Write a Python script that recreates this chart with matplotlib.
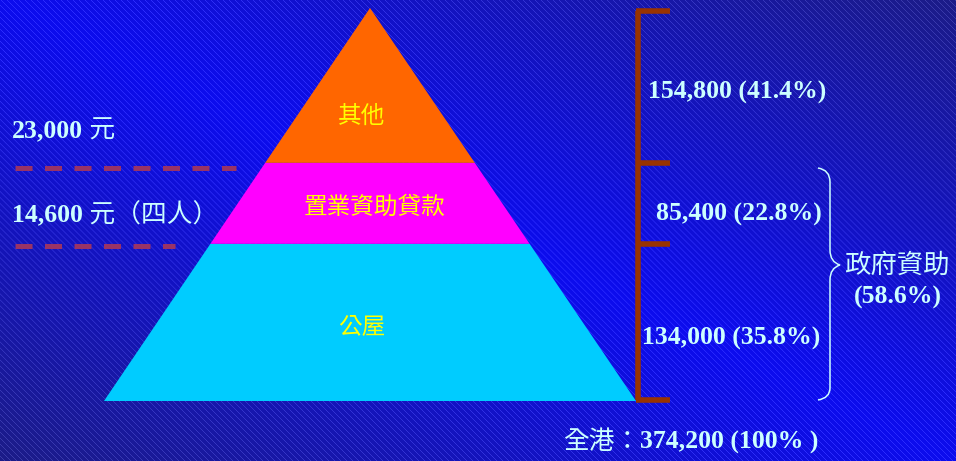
import numpy as np
import matplotlib
matplotlib.use("Agg")
import matplotlib.pyplot as plt
from matplotlib.patches import Polygon, PathPatch
from matplotlib.path import Path

# ---------- data ----------
layer_names = ["公屋", "置業資助貸款", "其他"]
households = [134000, 85400, 154800]
shares = [35.8, 22.8, 41.4]
# top of each layer as a fraction of the pyramid height
layer_tops = [0.40, 0.606, 1.0]
layer_colors = ["#00CCFF", "#FF00FF", "#FF6600"]

income_values = ["23,000", "14,600"]
income_units = ["元", "元（四人）"]
total_households = 374200
gov_share = 58.6
# ---------------------------

W, H = 956, 461
CYAN_TXT = "#CCFFFF"
SERIF = ["Liberation Serif", "Noto Sans CJK TC"]
CJK = ["Noto Sans CJK TC", "DejaVu Sans"]

fig = plt.figure(figsize=(W / 100, H / 100), dpi=100)
ax = fig.add_axes([0, 0, 1, 1])
ax.set_xlim(0, W)
ax.set_ylim(H, 0)
ax.axis("off")

# background: diagonal blue gradient with fine stripes
yy, xx = np.mgrid[0:H, 0:W]
t = np.abs(xx / W - yy / H)[..., None]
bright = np.array([12, 12, 238]) / 255
dark = np.array([28, 28, 135]) / 255
bg = bright * (1 - t) + dark * t
stripe = ((xx - yy) % 6 == 0)[..., None]
bg = np.clip(bg + stripe * 0.12, 0, 1)
ax.imshow(bg, extent=[0, W, H, 0], aspect="auto", zorder=0)

# pyramid geometry (pixel frame)
apex_x, apex_y = 370, 8
base_y = 401
half_base = 266
height = base_y - apex_y


def edge_x(frac):
    # half width of pyramid at a fraction of height from the base
    return half_base * (1 - frac)


prev = 0.0
for name, top, col in zip(layer_names, layer_tops, layer_colors):
    y0 = base_y - prev * height
    y1 = base_y - top * height
    pts = [(apex_x - edge_x(prev), y0), (apex_x + edge_x(prev), y0),
           (apex_x + edge_x(top), y1), (apex_x - edge_x(top), y1)]
    ax.add_patch(Polygon(pts, closed=True, facecolor=col, edgecolor="none", zorder=2))
    if top < 1.0:
        ty = (y0 + y1) / 2 + 4
    else:
        ty = y0 - 0.3 * (y0 - y1)
    ax.text(apex_x - 8 if top != layer_tops[1] else apex_x + 5, ty, name,
            color="#FFFF00", fontsize=17, ha="center", va="center",
            family=CJK, zorder=3)
    prev = top

# brown bracket on the right
bx = 638
brown = "#993300"
bounds = [0.0] + layer_tops
ax.plot([bx, bx], [base_y - 1, apex_y + 3], color=brown, lw=4, solid_capstyle="butt", zorder=3)
for b in bounds:
    yb = base_y - b * height
    yb = min(max(yb, apex_y + 3), base_y - 1)
    ax.plot([bx - 2, bx + 32], [yb, yb], color=brown, lw=4, solid_capstyle="butt", zorder=3)

# value labels beside the bracket
label_pos = {0: (642, 338), 1: (656, 214), 2: (648, 92)}
for i, (n, s) in enumerate(zip(households, shares)):
    x, y = label_pos[i]
    ax.text(x, y, f"{n:,} ({s}%)", color=CYAN_TXT, fontsize=18.5, fontweight="bold",
            ha="left", va="center", family=SERIF, zorder=4)

# curly brace for government-assisted share
verts = [(818, 168), (830, 170), (830, 182),
         (830, 250),
         (830, 262), (840, 265),
         (830, 268), (830, 280),
         (830, 388),
         (830, 398), (818, 400)]
codes = [Path.MOVETO, Path.CURVE3, Path.CURVE3,
         Path.LINETO,
         Path.CURVE3, Path.CURVE3,
         Path.CURVE3, Path.CURVE3,
         Path.LINETO,
         Path.CURVE3, Path.CURVE3]
ax.add_patch(PathPatch(Path(verts, codes), facecolor="none", edgecolor=CYAN_TXT, lw=1.1, zorder=3))
ax.text(897, 265, "政府資助", color=CYAN_TXT, fontsize=19, ha="center", va="center",
        family=CJK, zorder=4)
ax.text(898, 297, f"({gov_share}%)", color=CYAN_TXT, fontsize=18.5, fontweight="bold",
        ha="center", va="center", family=SERIF, zorder=4)

# income thresholds on the left
dash_col = "#993366"
dash_y = [168, 246]
dash_end = [236, 175]
label_y = [131, 215]
for val, unit, ly, dy, de in zip(income_values, income_units, label_y, dash_y, dash_end):
    t_num = ax.text(12, ly, val, color=CYAN_TXT, fontsize=18.5, fontweight="bold",
                    ha="left", va="center", family=SERIF, zorder=4)
    ax.annotate(" " + unit, xy=(1, 0.5), xycoords=t_num, color=CYAN_TXT, fontsize=18.5,
                ha="left", va="center", family=SERIF, zorder=4)
    ax.plot([15, de], [dy, dy], color=dash_col, lw=3.6, dashes=(3.4, 2.5),
            solid_capstyle="butt", dash_capstyle="butt", zorder=3)

# total
t_tot = ax.text(563, 442, "全港：", color=CYAN_TXT, fontsize=18.5,
                ha="left", va="center", family=CJK, zorder=4)
ax.annotate(f"{total_households:,} (100% )", xy=(1, 0.5), xycoords=t_tot, color=CYAN_TXT,
            fontsize=18.5, fontweight="bold", ha="left", va="center", family=SERIF, zorder=4)

fig.savefig("out.png", dpi=100)
